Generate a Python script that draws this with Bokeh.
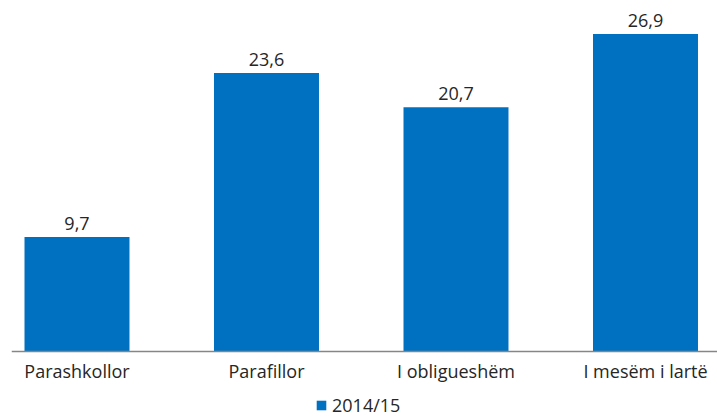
from bokeh.plotting import figure
from bokeh.models import ColumnDataSource, Legend, LegendItem, LabelSet
from bokeh.core.properties import value
from bokeh.embed import file_html
from bokeh.resources import INLINE

categories = ["Parashkollor", "Parafillor", "I obligueshëm", "I mesëm i lartë"]
values = [9.7, 23.6, 20.7, 26.9]
series_name = "2014/15"

xs = list(range(len(categories)))
labels = [f"{v:.1f}".replace(".", ",") for v in values]
src = ColumnDataSource(dict(x=xs, top=values, lab=labels))

FONT = "Open Sans"
TXT = "#262626"
BLUE = "#0070C0"

p = figure(frame_width=706, frame_height=409, output_backend="svg", toolbar_location=None,
           x_range=(-0.3456, 3.380), y_range=(-5.59, 29.07),
           min_border_left=11, min_border_right=0, min_border_top=8, min_border_bottom=0,
           outline_line_color=None)
r = p.vbar(x="x", top="top", width=0.554, bottom=0, source=src, color=BLUE, line_color=None)

p.add_layout(LabelSet(x="x", y="top", text="lab", source=src, text_align="center",
                      text_baseline="alphabetic", y_offset=7, text_font=value(FONT),
                      text_font_size=value("18px"), text_color=value(TXT)))

p.xgrid.visible = False
p.ygrid.visible = False
p.yaxis.visible = False
ax = p.xaxis[0]
ax.fixed_location = 0
ax.ticker = xs
ax.major_label_overrides = {i: c for i, c in enumerate(categories)}
ax.axis_line_color = "#868686"
ax.axis_line_width = 1.5
ax.major_tick_line_color = None
ax.minor_tick_line_color = None
ax.major_tick_out = 0
ax.major_tick_in = 0
ax.major_label_standoff = 7
ax.major_label_text_font = FONT
ax.major_label_text_font_size = "18px"
ax.major_label_text_color = TXT

leg = Legend(items=[LegendItem(label=series_name, renderers=[r])], orientation="horizontal",
             location=(304, 0), border_line_color=None, background_fill_alpha=0,
             glyph_width=12, glyph_height=12, label_text_font=FONT, label_text_font_size="18px",
             label_text_color=TXT, padding=0, margin=0, label_standoff=5, spacing=0,
             label_height=18, label_text_line_height=1.0)
p.add_layout(leg, "center")

open("out.html", "w").write(file_html(p, INLINE))
